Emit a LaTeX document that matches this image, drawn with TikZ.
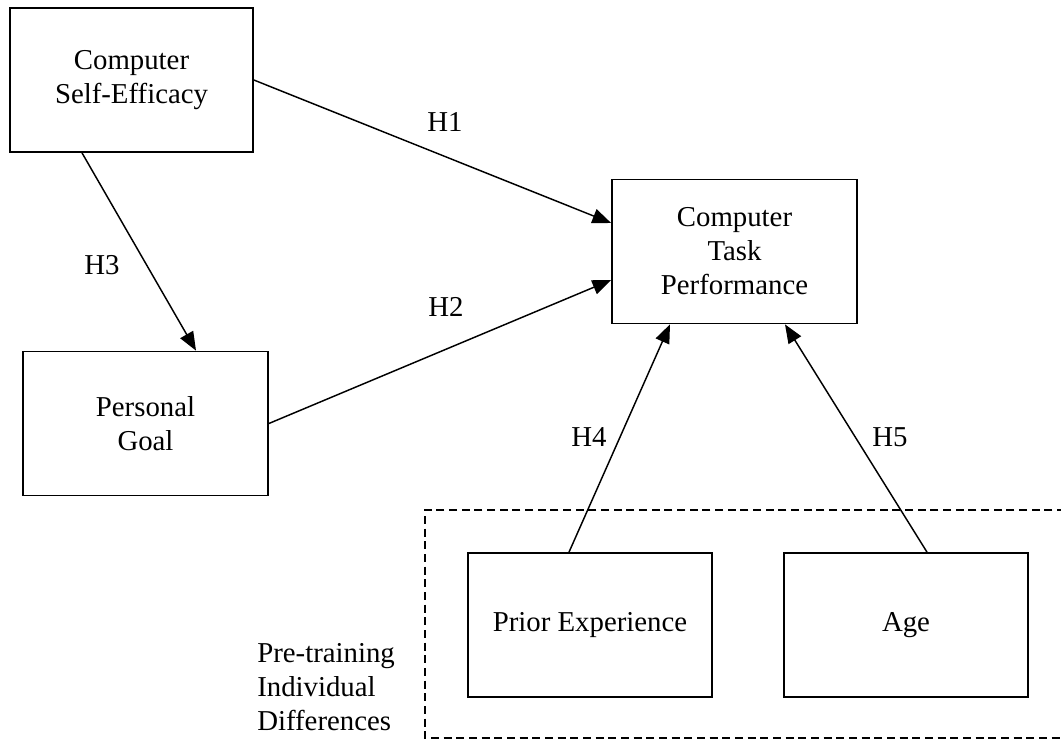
\documentclass[tikz,border=0pt]{standalone}
\usepackage{fontspec}
\setmainfont{Liberation Serif}
\usetikzlibrary{arrows.meta,calc}
\tikzset{
  txt/.style={font=\fontsize{21.6}{25.5}\selectfont, align=center, inner sep=0pt},
  box/.style={txt, draw, line width=1.3pt, minimum width=#1*0.75pt, minimum height=144*0.75pt},
  box/.default=244,
  conn/.style={line width=1.1pt, -{Triangle[length=14pt, width=11pt]}},
  grp/.style={draw, line width=1.1pt, dash pattern=on 6pt off 3.5pt},
}
\begin{document}
\begin{tikzpicture}[x=0.75pt, y=-0.75pt]
\useasboundingbox (0,0) rectangle (1061,740);
% group frame
\draw[grp] (1065,510) -- (425,510) -- (425,738) -- (1065,738);
% boxes
\node[box=243] (cse) at (131.5,80) {Computer\\Self-Efficacy};
\node[box=245] (ctp) at (734.5,251.5) {Computer\\Task\\Performance};
\node[box=245] (pg) at (145.5,423.5) {Personal\\Goal};
\node[box=244] (pe) at (590,625) {Prior Experience};
\node[box=244] (age) at (906,625) {Age};
% group label
\node[txt, align=left, anchor=base west] (grplabel) at (257,730) {Pre-training\\Individual\\Differences};
% connectors
\draw[conn] (cse.east) -- ($(ctp.west)+(0,-28.5)$);
\draw[conn] ($(cse.south)+(-49.5,0)$) -- ($(pg.north)+(50.5,0)$);
\draw[conn] (pg.east) -- ($(ctp.west)+(0,28.5)$);
\draw[conn] ($(pe.north)+(-21,0)$) -- ($(ctp.south)+(-64.5,0)$);
\draw[conn] ($(age.north)+(21,0)$) -- ($(ctp.south)+(50.5,0)$);
% labels
\node[txt] (h1) at (445,122) {H1};
\node[txt] (h3) at (102,265) {H3};
\node[txt] (h2) at (446,307) {H2};
\node[txt] (h4) at (589,437) {H4};
\node[txt] (h5) at (890,437) {H5};
\end{tikzpicture}
\end{document}
